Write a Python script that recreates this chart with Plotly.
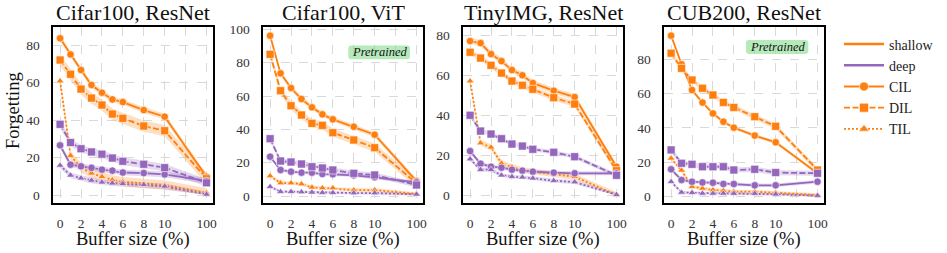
import plotly.graph_objects as go

# ---------------- data ----------------
buffer_sizes = [0, 1, 2, 3, 4, 5, 6, 8, 10, 100]
x_tick_labels = ["0", "2", "4", "6", "8", "10", "", "100"]
panel_titles = ["Cifar100, ResNet", "Cifar100, ViT", "TinyIMG, ResNet", "CUB200, ResNet"]
pretrained_flags = [False, True, False, True]

# Cifar100, ResNet
c1_shallow_cil = [83.6, 75.0, 66.7, 58.7, 54.6, 51.0, 49.6, 45.3, 41.8, 9.8]
c1_shallow_dil = [72.0, 64.4, 56.5, 51.7, 48.0, 43.2, 40.9, 36.8, 34.3, 8.7]
c1_shallow_til = [60.8, 21.0, 14.6, 11.6, 9.8, 8.0, 7.1, 6.2, 5.3, 1.2]
c1_deep_cil = [26.5, 16.2, 15.3, 14.5, 13.5, 13.0, 12.0, 11.7, 11.0, 7.5]
c1_deep_dil = [37.7, 28.0, 24.7, 23.0, 21.8, 19.7, 18.0, 16.4, 14.6, 6.5]
c1_deep_til = [15.8, 10.5, 9.0, 7.8, 6.8, 6.3, 6.0, 5.5, 4.6, 0.3]
c1_spread = [1.5, 3.0, 2.5, 1.5, 2.0, 1.5]

# Cifar100, ViT
c2_shallow_cil = [96.2, 73.6, 64.8, 58.2, 53.2, 49.0, 46.0, 41.6, 36.8, 9.0]
c2_shallow_dil = [85.0, 63.2, 54.2, 48.6, 43.6, 42.4, 38.0, 33.6, 29.0, 7.6]
c2_shallow_til = [12.0, 7.8, 7.8, 7.2, 5.2, 4.8, 4.8, 3.6, 3.6, 1.2]
c2_deep_cil = [23.6, 15.6, 14.6, 14.0, 14.0, 13.2, 13.0, 12.4, 11.2, 8.2]
c2_deep_dil = [34.4, 21.0, 20.4, 19.2, 17.6, 16.8, 15.6, 13.6, 12.6, 6.6]
c2_deep_til = [5.6, 2.6, 2.6, 2.4, 2.2, 2.0, 2.0, 1.8, 1.8, 1.0]
c2_spread = [1.5, 2.5, 1.0, 1.0, 1.5, 0.8]

# TinyIMG, ResNet
c3_shallow_cil = [77.3, 76.3, 70.8, 67.3, 62.8, 60.2, 56.3, 52.5, 49.3, 14.5]
c3_shallow_dil = [71.7, 68.8, 65.2, 61.3, 57.3, 55.2, 53.2, 49.0, 45.8, 12.5]
c3_shallow_til = [57.3, 26.3, 24.2, 16.2, 14.3, 12.8, 12.0, 10.8, 9.5, 0.3]
c3_deep_cil = [22.3, 16.0, 14.5, 14.0, 13.0, 12.5, 12.0, 11.5, 11.2, 11.2]
c3_deep_dil = [40.2, 32.3, 30.8, 28.5, 25.8, 24.8, 23.2, 21.7, 19.5, 10.2]
c3_deep_til = [18.3, 13.0, 13.0, 10.2, 9.5, 9.2, 8.7, 7.5, 6.8, 0.5]
c3_spread = [1.5, 1.5, 1.5, 1.0, 1.0, 1.0]

# CUB200, ResNet
c4_shallow_cil = [93.6, 77.0, 62.0, 54.7, 48.4, 43.6, 40.1, 35.5, 31.6, 13.6]
c4_shallow_dil = [83.4, 74.6, 67.8, 63.0, 59.1, 54.8, 51.9, 46.5, 40.9, 15.5]
c4_shallow_til = [22.3, 15.3, 5.8, 4.8, 3.9, 3.5, 2.9, 2.9, 2.3, 1.0]
c4_deep_cil = [15.9, 9.7, 8.7, 8.3, 8.1, 7.4, 7.4, 6.6, 6.6, 8.7]
c4_deep_dil = [27.2, 19.4, 18.8, 17.4, 17.4, 17.4, 15.5, 15.9, 14.0, 13.6]
c4_deep_til = [8.7, 2.5, 2.3, 1.9, 1.9, 1.9, 1.8, 1.8, 1.4, 0.6]
c4_spread = [1.0, 1.5, 1.0, 1.0, 1.5, 0.8]

panels = [
    [c1_shallow_cil, c1_shallow_dil, c1_shallow_til, c1_deep_cil, c1_deep_dil, c1_deep_til, c1_spread],
    [c2_shallow_cil, c2_shallow_dil, c2_shallow_til, c2_deep_cil, c2_deep_dil, c2_deep_til, c2_spread],
    [c3_shallow_cil, c3_shallow_dil, c3_shallow_til, c3_deep_cil, c3_deep_dil, c3_deep_til, c3_spread],
    [c4_shallow_cil, c4_shallow_dil, c4_shallow_til, c4_deep_cil, c4_deep_dil, c4_deep_til, c4_spread],
]
y_ranges = [[-4.1, 89.8], [-4.0, 101.6], [-3.5, 84.5], [-3.5, 98.8]]
y_tickvals = [[0, 20, 40, 60, 80], [0, 20, 40, 60, 80, 100], [0, 20, 40, 60, 80], [0, 20, 40, 60, 80]]

# ---------------- style ----------------
W, H = 947, 253
FONT = "Liberation Serif"
ORANGE = "#ff7f0e"
PURPLE = "#9467bd"
BAND = {ORANGE: "rgba(255,127,14,0.25)", PURPLE: "rgba(148,103,189,0.25)"}
DASHES = {"CIL": "solid", "DIL": "6px,2.5px", "TIL": "2px,2px"}
SYMBOLS = {"CIL": "circle", "DIL": "square", "TIL": "triangle-up"}
SIZES = {"CIL": 7.5, "DIL": 8, "TIL": 7}
LW = 1.8

frame_left = [53.3, 263.3, 463.3, 664.3]
frame_w = 160
frame_top, frame_bottom = 26.7, 202.7


def px_x(p):
    return p / W


def px_y(p):
    return 1 - p / H


def pos_of(b):
    # axis placement: 0..10 linear, 100 placed after a gap
    return b if b <= 10 else 14


xpos = [pos_of(b) for b in buffer_sizes]

fig = go.Figure()

for i, pdata in enumerate(panels):
    ax = "" if i == 0 else str(i + 1)
    spread = pdata[6]
    series = [
        (pdata[0], ORANGE, "CIL", spread[0]),
        (pdata[1], ORANGE, "DIL", spread[1]),
        (pdata[2], ORANGE, "TIL", spread[2]),
        (pdata[3], PURPLE, "CIL", spread[3]),
        (pdata[4], PURPLE, "DIL", spread[4]),
        (pdata[5], PURPLE, "TIL", spread[5]),
    ]
    for vals, col, kind, sp in series:
        up = [v + sp for v in vals]
        lo = [max(v - sp, 0) for v in vals]
        fig.add_trace(go.Scatter(
            x=xpos + xpos[::-1], y=up + lo[::-1], fill="toself",
            fillcolor=BAND[col], line=dict(width=0), mode="lines",
            hoverinfo="skip", showlegend=False,
            xaxis="x" + ax, yaxis="y" + ax))
    for vals, col, kind, sp in series:
        fig.add_trace(go.Scatter(
            x=xpos, y=vals, mode="lines+markers",
            line=dict(color=col, width=LW, dash=DASHES[kind]),
            marker=dict(symbol=SYMBOLS[kind], size=SIZES[kind], color=col,
                        line=dict(color="white", width=0.6)),
            showlegend=False, xaxis="x" + ax, yaxis="y" + ax))

# legend entries
fig.add_trace(go.Scatter(x=[None], y=[None], mode="lines", name="shallow",
                         line=dict(color=ORANGE, width=2.5)))
fig.add_trace(go.Scatter(x=[None], y=[None], mode="lines", name="deep",
                         line=dict(color=PURPLE, width=2.5)))
for kind in ["CIL", "DIL", "TIL"]:
    fig.add_trace(go.Scatter(
        x=[None], y=[None], mode="lines+markers", name=kind,
        line=dict(color=ORANGE, width=LW, dash=DASHES[kind]),
        marker=dict(symbol=SYMBOLS[kind], size=9, color=ORANGE,
                    line=dict(color="white", width=0.6))))

layout = dict(
    width=W, height=H,
    margin=dict(l=0, r=0, t=0, b=0, autoexpand=False),
    paper_bgcolor="white", plot_bgcolor="white",
    font=dict(family=FONT, color="#222222"),
    showlegend=True,
    legend=dict(x=px_x(839), y=px_y(28.5), xanchor="left", yanchor="top",
                font=dict(family=FONT, size=14, color="#222222"),
                bgcolor="rgba(0,0,0,0)", itemwidth=40, tracegroupgap=0),
)

annotations = []
shapes = []
for i in range(4):
    ax = "" if i == 0 else str(i + 1)
    x0 = frame_left[i]
    x1 = x0 + frame_w
    layout["xaxis" + ax] = dict(
        domain=[px_x(x0), px_x(x1)], anchor="y" + ax,
        range=[-0.65, 14.65],
        tickmode="array", tickvals=[0, 2, 4, 6, 8, 10, 12, 14], ticktext=x_tick_labels,
        showgrid=True, gridcolor="#d9d9d9", griddash="dash", gridwidth=1,
        zeroline=False, showline=True, linecolor="black", linewidth=1.5, mirror=True,
        ticks="outside", ticklen=7, tickcolor="rgba(0,0,0,0)",
        tickfont=dict(family=FONT, size=13.5, color="#333333"),
    )
    layout["yaxis" + ax] = dict(
        domain=[px_y(frame_bottom), px_y(frame_top)], anchor="x" + ax,
        range=y_ranges[i],
        tickmode="array", tickvals=y_tickvals[i],
        showgrid=True, gridcolor="#d9d9d9", griddash="dash", gridwidth=1,
        zeroline=False, showline=True, linecolor="black", linewidth=1.5, mirror=True,
        ticks="outside", ticklen=9, tickcolor="rgba(0,0,0,0)",
        tickfont=dict(family=FONT, size=13.5, color="#333333"),
    )
    cx = (x0 + x1) / 2
    annotations.append(dict(
        text=panel_titles[i], xref="paper", yref="paper",
        x=px_x(cx), y=px_y(12.5), xanchor="center", yanchor="middle",
        showarrow=False, font=dict(family=FONT, size=22, color="#111111")))
    annotations.append(dict(
        text="Buffer size (%)", xref="paper", yref="paper",
        x=px_x(cx), y=px_y(239), xanchor="center", yanchor="middle",
        showarrow=False, font=dict(family=FONT, size=18.5, color="#111111")))

annotations.append(dict(
    text="Forgetting", xref="paper", yref="paper", textangle=-90,
    x=px_x(13), y=px_y(111), xanchor="center", yanchor="middle",
    showarrow=False, font=dict(family=FONT, size=18.5, color="#111111")))

# "Pretrained" badges (pixel boxes)
badges = {1: (348.3, 45.5, 410.0, 59.3), 3: (746.0, 40.0, 808.3, 54.0)}
r = 3
for i, (bx0, by0, bx1, by1) in badges.items():
    if not pretrained_flags[i]:
        continue
    X = px_x
    Y = px_y
    path = (f"M {X(bx0 + r)} {Y(by0)} L {X(bx1 - r)} {Y(by0)} "
            f"Q {X(bx1)} {Y(by0)} {X(bx1)} {Y(by0 + r)} "
            f"L {X(bx1)} {Y(by1 - r)} Q {X(bx1)} {Y(by1)} {X(bx1 - r)} {Y(by1)} "
            f"L {X(bx0 + r)} {Y(by1)} Q {X(bx0)} {Y(by1)} {X(bx0)} {Y(by1 - r)} "
            f"L {X(bx0)} {Y(by0 + r)} Q {X(bx0)} {Y(by0)} {X(bx0 + r)} {Y(by0)} Z")
    shapes.append(dict(type="path", path=path, xref="paper", yref="paper",
                       fillcolor="rgba(134,220,140,0.6)", line=dict(width=0), layer="above"))
    annotations.append(dict(
        text="<i>Pretrained</i>", xref="paper", yref="paper",
        x=px_x((bx0 + bx1) / 2), y=px_y((by0 + by1) / 2), xanchor="center", yanchor="middle",
        showarrow=False, font=dict(family=FONT, size=12.5, color="#111111")))

layout["annotations"] = annotations
layout["shapes"] = shapes
fig.update_layout(**layout)

fig.write_html("out.html",
               config={"displayModeBar": False},
               post_script="document.body.style.margin='0';document.body.style.padding='0';")
